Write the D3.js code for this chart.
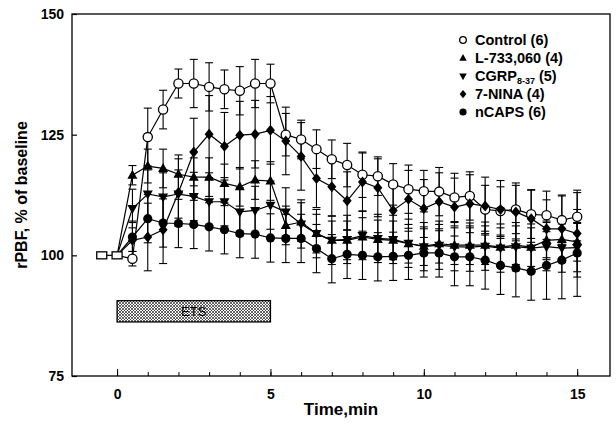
<!DOCTYPE html>
<html><head><meta charset="utf-8">
<script src="https://cdn.jsdelivr.net/npm/d3@7"></script>
<style>body{margin:0;background:#fff}svg{display:block}text{font-family:"Liberation Sans",Arial,sans-serif;font-weight:bold;fill:#000}</style>
</head><body><svg id="c" width="616" height="423"></svg>
<script>
const times = [0.5,1,1.5,2,2.5,3,3.5,4,4.5,5,5.5,6,6.5,7,7.5,8,8.5,9,9.5,10,10.5,11,11.5,12,12.5,13,13.5,14,14.5,15];
const baselineTimes = [-0.5, 0];
const baselineValue = 100;
const control = [99.3,124.5,130.2,135.6,135.6,134.9,134.4,134.1,135.6,135.6,125.0,124.0,122.0,119.9,118.7,116.7,116.4,114.7,113.7,113.3,113.2,112.0,112.3,109.5,109.2,109.5,108.5,108.3,107.3,108.0];
const controlErr = [1.5,6,4,3,5,5,4,5,5,4,4.4,4,4,4,4.5,4.7,4,4.3,5,4.3,5,5,5,5,5,5,5,5,5,5];
const l733 = [116.6,118.5,118.0,116.8,116.2,116.2,114.9,114.2,115.6,115.4,106.2,106.9,104.5,103.1,103.1,103.8,103.3,103.1,102.4,101.9,102.4,102.1,102.1,102.1,101.7,102.1,101.7,103.1,103.3,102.8];
const l733Err = [2,3.5,4,4,4,4,4,4,4,4,4,4,4,4,4,4,4,4,4,4,4,4,4,4,4,4,4,4,4,4];
const cgrp = [109.7,112.7,112.1,112.7,112.2,111.1,111.1,109.0,109.3,110.4,109.0,106.5,104.5,103.1,103.3,104.1,103.5,103.3,102.5,101.8,102.1,101.8,101.7,101.9,101.5,101.8,101.5,101.8,101.5,101.6];
const cgrpErr = [4,5,5,5,5,5,5,5,5,5,5,5,5,5,5,5,5,5,5,5,5,5,5,5,5,5,5,5,5,5];
const nina = [103.1,103.8,105.3,113.0,121.4,125.1,122.6,124.9,125.1,125.9,123.7,120.5,115.9,114.2,111.3,115.2,114.0,109.3,111.6,109.7,111.1,110.0,110.7,110.2,109.5,109.0,107.6,105.5,105.5,104.5];
const ninaErr = [4,7,7,7,7,8,7,7,7,7,7,7,6,6,6,6,6,6,6,6,6,6,6,6,6,6,6,6,7,9];
const ncaps = [103.8,107.6,106.7,106.6,106.4,105.9,105.3,104.5,104.4,103.6,103.5,103.5,101.4,99.3,100.2,100.0,99.7,99.8,100.0,100.5,100.5,99.7,99.7,99.0,97.9,97.4,96.7,97.9,99.0,100.5];
const ncapsErr = [3,5,5,5,5,5,5,5,5,5,5,5,5,5,5,5,5,5,5,5,5,6,6,6,6,6,6,7,8,9];
const seriesNames = ["Control (6)","L-733,060 (4)","CGRP","7-NINA (4)","nCAPS (6)"];
const yTicks = [75,100,125,150];
const xMajor = [0,5,10,15];
const xMinor = [0,1,2,3,4,5,6,7,8,9,10,11,12,13,14,15];
const etsPeriod = [0,5];

const svg = d3.select("#c");
const L=72,R=610,T=14,B=376;
const x = d3.scaleLinear().domain([-1.47,16.07]).range([L,R]);
const y = d3.scaleLinear().domain([75,150]).range([B,T]);

const defs = svg.append("defs");
const pat = defs.append("pattern").attr("id","hatch").attr("width",3).attr("height",3).attr("patternUnits","userSpaceOnUse");
pat.append("rect").attr("width",3).attr("height",3).attr("fill","#fff");
pat.append("path").attr("d","M0,0L3,3M3,0L0,3").attr("stroke","#222").attr("stroke-width",0.7);

svg.append("rect").attr("x",L).attr("y",T).attr("width",R-L).attr("height",B-T).attr("fill","none").attr("stroke","#000").attr("stroke-width",1.3);

const yAxis = d3.axisLeft(y).tickValues(yTicks).tickSize(-5).tickPadding(8).tickFormat(d3.format("d"));
const gy = svg.append("g").attr("transform",`translate(${L},0)`).call(yAxis);
gy.select(".domain").remove();
gy.selectAll("text").style("font-size","14px");
gy.selectAll("line").attr("stroke-width",1.2);

const xAxisMinor = d3.axisBottom(x).tickValues(xMinor).tickSize(-4).tickFormat("");
const gxm = svg.append("g").attr("transform",`translate(0,${B})`).call(xAxisMinor);
gxm.select(".domain").remove();
const xAxis = d3.axisBottom(x).tickValues(xMajor).tickSize(-7).tickPadding(13).tickFormat(d3.format("d"));
const gx = svg.append("g").attr("transform",`translate(0,${B})`).call(xAxis);
gx.select(".domain").remove();
gx.selectAll("text").style("font-size","14px");

svg.append("text").attr("x",(L+R)/2).attr("y",415).attr("text-anchor","middle").style("font-size","17px").text("Time,min");
svg.append("text").attr("transform",`translate(27,${(T+B)/2}) rotate(-90)`).attr("text-anchor","middle").style("font-size","16px").text("rPBF, % of baseline");

svg.append("rect").attr("x",x(etsPeriod[0])).attr("y",y(90.6)).attr("width",x(etsPeriod[1])-x(etsPeriod[0])).attr("height",y(86.2)-y(90.6))
  .attr("fill","url(#hatch)").attr("stroke","#000").attr("stroke-width",1.3);
svg.append("text").attr("x",(x(0)+x(5))/2).attr("y",(y(90.6)+y(86.2))/2+5).attr("text-anchor","middle").style("font-size","13px").style("font-weight","normal").text("ETS");

const shapes = ["circle","triUp","triDown","diamond","dot"];
function marker(g, kind, cx, cy, s){
  s = s||1;
  if(kind==="circle") g.append("circle").attr("cx",cx).attr("cy",cy).attr("r",4.6*s).attr("fill","#fff").attr("stroke","#000").attr("stroke-width",1.3);
  else if(kind==="dot") g.append("circle").attr("cx",cx).attr("cy",cy).attr("r",4.6*s).attr("fill","#000");
  else if(kind==="triUp") g.append("path").attr("d",`M${cx},${cy-5.5*s}L${cx+5*s},${cy+3.5*s}L${cx-5*s},${cy+3.5*s}Z`).attr("fill","#000");
  else if(kind==="triDown") g.append("path").attr("d",`M${cx},${cy+5.5*s}L${cx+5*s},${cy-3.5*s}L${cx-5*s},${cy-3.5*s}Z`).attr("fill","#000");
  else if(kind==="diamond") g.append("path").attr("d",`M${cx},${cy-5.5*s}L${cx+4.5*s},${cy}L${cx},${cy+5.5*s}L${cx-4.5*s},${cy}Z`).attr("fill","#000");
}

const all = [[control,controlErr],[l733,l733Err],[cgrp,cgrpErr],[nina,ninaErr],[ncaps,ncapsErr]];
const line = d3.line().x(d=>x(d[0])).y(d=>y(d[1]));
const plot = svg.append("g");
all.forEach(([vals,errs])=>{
  const g = plot.append("g").attr("stroke","#000").attr("stroke-width",1.1);
  times.forEach((t,i)=>{
    const cx=x(t), y1=y(vals[i]+errs[i]), y2=y(vals[i]-errs[i]);
    g.append("line").attr("x1",cx).attr("x2",cx).attr("y1",y1).attr("y2",y2);
    g.append("line").attr("x1",cx-4).attr("x2",cx+4).attr("y1",y1).attr("y2",y1);
    g.append("line").attr("x1",cx-4).attr("x2",cx+4).attr("y1",y2).attr("y2",y2);
  });
});
all.forEach(([vals])=>{
  const pts=[[0,baselineValue]].concat(times.map((t,i)=>[t,vals[i]]));
  plot.append("path").attr("d",line(pts)).attr("fill","none").attr("stroke","#000").attr("stroke-width",1.2);
});
plot.append("path").attr("d",line(baselineTimes.map(t=>[t,baselineValue]))).attr("fill","none").attr("stroke","#000").attr("stroke-width",1.2);
all.forEach(([vals],si)=>{
  const g=plot.append("g");
  times.forEach((t,i)=>marker(g,shapes[si],x(t),y(vals[i])));
});
baselineTimes.forEach(t=>plot.append("rect").attr("x",x(t)-5).attr("y",y(baselineValue)-3.5).attr("width",10).attr("height",7).attr("fill","#fff").attr("stroke","#000").attr("stroke-width",1.3));

const lg = svg.append("g");
const rows=[40,58,76,94,112];
seriesNames.forEach((n,i)=>{
  const sy=rows[i];
  const g=lg.append("g");
  if(i===0) g.append("circle").attr("cx",463).attr("cy",sy).attr("r",3.3).attr("fill","#fff").attr("stroke","#000").attr("stroke-width",1.3);
  else if(i===4) g.append("circle").attr("cx",463).attr("cy",sy).attr("r",3.6).attr("fill","#000");
  else marker(g,shapes[i],463,sy,0.75);
  const t=g.append("text").attr("x",475).attr("y",sy+5).style("font-size","14.5px");
  if(i===2){
    t.append("tspan").text("CGRP");
    t.append("tspan").attr("dy",3).style("font-size","9px").text("8-37");
    t.append("tspan").attr("dy",-3).text(" (5)");
  } else t.text(n);
});
</script></body></html>
